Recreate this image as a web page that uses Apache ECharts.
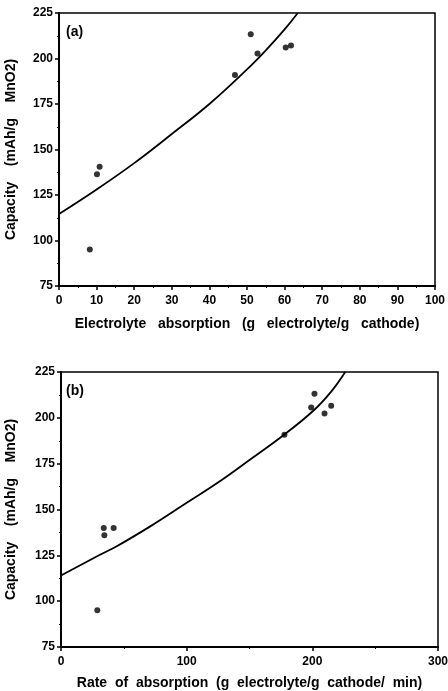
<!DOCTYPE html>
<html><head><meta charset="utf-8">
<script src="https://cdn.jsdelivr.net/npm/echarts@6/dist/echarts.min.js"></script>
<style>html,body{margin:0;padding:0;background:#fff}#c{width:448px;height:691px}</style>
</head><body><div id="c"></div>
<script>
// Panel (a)
const aAbsorption = [8.2, 10.1, 10.8, 46.8, 51.0, 52.8, 60.3, 61.7];
const aCapacity   = [95.0, 136.4, 140.5, 190.9, 213.3, 202.7, 206.0, 207.1];
const aFitX = [0, 10, 20, 30, 40, 50, 55, 60, 63.5];
const aFitY = [114.5, 128, 142.5, 158.5, 175, 194, 204.5, 216, 225];
const aXTicks = [0, 10, 20, 30, 40, 50, 60, 70, 80, 90, 100];
// Panel (b)
const bRate     = [28.9, 34.0, 34.5, 41.9, 177.8, 199.1, 201.7, 209.7, 215.0];
const bCapacity = [95.0, 139.9, 135.9, 139.9, 190.8, 205.7, 213.2, 202.3, 206.6];
const bFitX = [0, 31, 44, 71, 97, 124, 150, 177, 201, 215, 226.2];
const bFitY = [114, 125.3, 129.8, 140.8, 152.3, 164.3, 177.0, 190.5, 204, 214.3, 225];
const bXTicks = [0, 100, 200, 300];
const yTicks = [75, 100, 125, 150, 175, 200, 225];

const FONT = '"Liberation Sans", Arial, sans-serif';
const lab = {color:'#000', fontFamily:FONT, fontWeight:'bold', fontSize:12};
const titleStyle = {color:'#000', fontFamily:FONT, fontWeight:'bold', fontSize:14};
function xAxis(idx, max, interval, name, gap, minorSplit, labelFmt){
  return {type:'value', gridIndex:idx, min:0, max:max, interval:interval,
    name:name, nameLocation:'middle', nameGap:gap,
    nameTextStyle:titleStyle,
    axisLine:{show:true, onZero:false, lineStyle:{color:'#000', width:2}},
    axisTick:{show:true, length:4, lineStyle:{color:'#000', width:1.5}},
    minorTick:{show:true, splitNumber:minorSplit, length:2, lineStyle:{color:'#000', width:1}},
    axisLabel:Object.assign({margin:9, formatter:labelFmt}, lab),
    splitLine:{show:false}};
}
function yAxis(idx, name, gap){
  return {type:'value', gridIndex:idx, min:75, max:225, interval:25,
    name:name, nameLocation:'middle', nameGap:gap,
    nameTextStyle:titleStyle,
    axisLine:{show:true, onZero:false, lineStyle:{color:'#000', width:2}},
    axisTick:{show:true, length:4, lineStyle:{color:'#000', width:1.5}},
    minorTick:{show:true, splitNumber:2, length:2, lineStyle:{color:'#000', width:1}},
    axisLabel:Object.assign({margin:6, formatter:v=>yTicks.includes(v)?String(v):''}, lab),
    splitLine:{show:false}};
}
const chart = echarts.init(document.getElementById('c'), null, {renderer:'canvas'});
chart.setOption({
  animation:false,
  backgroundColor:'#fff',
  grid:[
    {left:59, right:13, top:13, height:273, show:true, borderColor:'#000', borderWidth:1.5, containLabel:false, outerBoundsMode:'none'},
    {left:61, right:10, top:372, height:275, show:true, borderColor:'#000', borderWidth:1.5, containLabel:false, outerBoundsMode:'none'}
  ],
  xAxis:[
    xAxis(0, 100, 10, 'Electrolyte   absorption   (g   electrolyte/g   cathode)', 31, 2, v=>aXTicks.includes(v)?String(v):''),
    xAxis(1, 300, 100, 'Rate  of  absorption  (g  electrolyte/g  cathode/  min)', 29, 2, v=>bXTicks.includes(v)?String(v):'')
  ],
  yAxis:[
    yAxis(0, 'Capacity    (mAh/g    MnO2)', 41),
    yAxis(1, 'Capacity    (mAh/g    MnO2)', 43)
  ],
  graphic:[
    {type:'text', left:66, top:25, style:{text:'(a)', fill:'#000', font:'bold 14px '+FONT}},
    {type:'text', left:66, top:384, style:{text:'(b)', fill:'#000', font:'bold 14px '+FONT}}
  ],
  series:[
    {type:'line', xAxisIndex:0, yAxisIndex:0, data:aFitX.map((x,i)=>[x,aFitY[i]]), smooth:0.4, showSymbol:false, symbol:'none', clip:true, lineStyle:{color:'#000', width:1.8}},
    {type:'scatter', xAxisIndex:0, yAxisIndex:0, data:aAbsorption.map((x,i)=>[x,aCapacity[i]]), symbolSize:6, itemStyle:{color:'#000'}},
    {type:'line', xAxisIndex:1, yAxisIndex:1, data:bFitX.map((x,i)=>[x,bFitY[i]]), smooth:0.4, showSymbol:false, symbol:'none', clip:true, lineStyle:{color:'#000', width:1.8}},
    {type:'scatter', xAxisIndex:1, yAxisIndex:1, data:bRate.map((x,i)=>[x,bCapacity[i]]), symbolSize:6, itemStyle:{color:'#000'}}
  ]
});
</script></body></html>
